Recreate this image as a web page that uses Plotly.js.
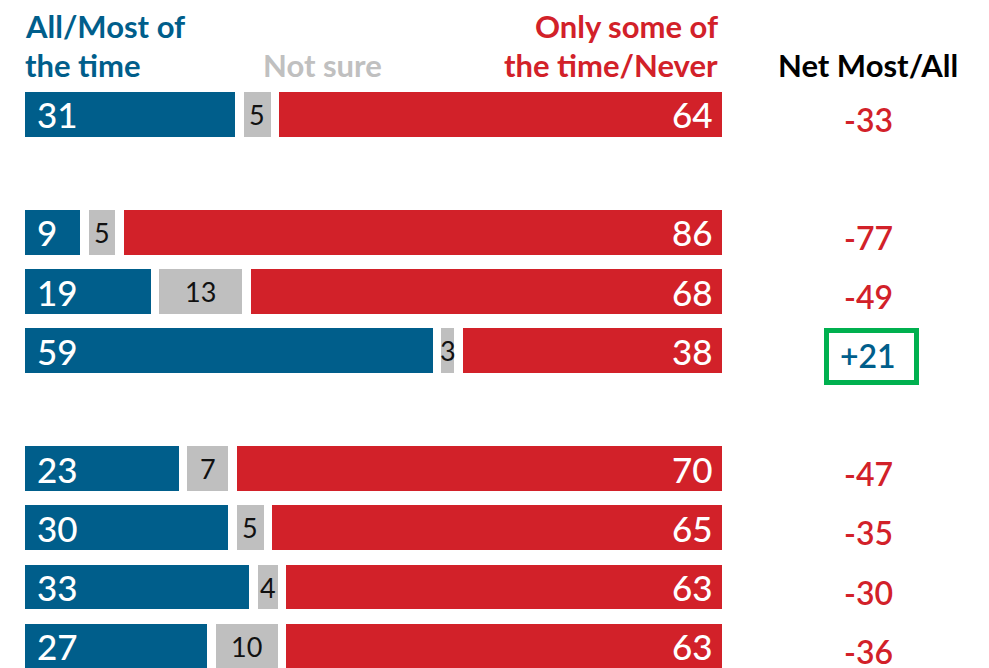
<!DOCTYPE html>
<html><head><meta charset="utf-8">
<script src="https://cdn.plot.ly/plotly-3.0.1.min.js"></script>
<style>html,body{margin:0;padding:0;background:#fff}#chart{width:989px;height:668px}</style>
</head><body><div id="chart"></div>
<script>
// ---- data ----
const rows = ["Row 1", "Row 2", "Row 3", "Row 4", "Row 5", "Row 6", "Row 7", "Row 8"];
const slots = ["Row 1", "gap 1", "Row 2", "Row 3", "Row 4", "gap 2", "Row 5", "Row 6", "Row 7", "Row 8"];
const allMost = [31, 9, 19, 59, 23, 30, 33, 27];
const notSure = [5, 5, 13, 3, 7, 5, 4, 10];
const someNever = [64, 86, 68, 38, 70, 65, 63, 63];
const netMostAll = ["-33", "-77", "-49", "+21", "-47", "-35", "-30", "-36"];
const highlighted = [false, false, false, true, false, false, false, false];
const headerAll = ["All/Most of", "the time"];
const headerSure = "Not sure";
const headerSome = ["Only some of", "the time/Never"];
const headerNet = "Net Most/All";

// ---- styles ----
const BLUE = "#005e8b", RED = "#d22129", GREY = "#bfbfbf", GREYTXT = "#c0c0c0", GREEN = "#00b04f";
const FONT = "Lato, 'DejaVu Sans', sans-serif";
const W = 989, H = 668;

function barTrace(vals, color, name) {
  return {
    type: 'bar', orientation: 'h', y: rows, x: vals, name: name,
    marker: {color: color, line: {color: '#ffffff', width: 8.5}},
    width: 0.905, hoverinfo: 'skip', textposition: 'none', showlegend: false
  };
}
const traces = [barTrace(allMost, BLUE, headerAll.join(' ')),
                barTrace(notSure, GREY, headerSure),
                barTrace(someNever, RED, headerSome.join(' '))];

const ann = [];
rows.forEach((r, i) => {
  ann.push({x: 0, y: r, xref: 'x', yref: 'y', text: String(allMost[i]), showarrow: false,
            xanchor: 'left', xshift: 14, font: {family: FONT, size: 35, color: '#ffffff', weight: 500}});
  ann.push({x: allMost[i] + notSure[i] / 2, y: r, xref: 'x', yref: 'y', text: String(notSure[i]), showarrow: false,
            xanchor: 'center', font: {family: FONT, size: 27, color: '#111111'}});
  ann.push({x: allMost[i] + notSure[i] + someNever[i], y: r, xref: 'x', yref: 'y', text: String(someNever[i]), showarrow: false,
            xanchor: 'right', xshift: -12, font: {family: FONT, size: 35, color: '#ffffff', weight: 500}});
  ann.push({x: 868 / W, y: r, xref: 'paper', yref: 'y', text: netMostAll[i], showarrow: false,
            xanchor: 'center', yshift: -5,
            font: {family: FONT, size: 32, color: highlighted[i] ? BLUE : RED, weight: 600}});
});
function hdr(text, px, py, anchor, color) {
  ann.push({x: px / W, y: 1 - py / H, xref: 'paper', yref: 'paper', text: text, showarrow: false,
            xanchor: anchor, yanchor: 'middle', font: {family: FONT, size: 31, color: color, weight: 700}});
}
hdr(headerAll[0], 23, 26, 'left', BLUE);
hdr(headerAll[1], 23, 65, 'left', BLUE);
hdr(headerSure, 261, 65, 'left', GREYTXT);
hdr(headerSome[0], 720, 26, 'right', RED);
hdr(headerSome[1], 720, 65, 'right', RED);
hdr(headerNet, 868, 65, 'center', '#000000');

const shapes = [];
highlighted.forEach((h, i) => {
  if (h) shapes.push({type: 'rect', xref: 'paper', yref: 'paper',
    x0: 826.5 / W, x1: 916.5 / W, y0: 1 - 382.5 / H, y1: 1 - 330.5 / H,
    line: {color: GREEN, width: 5}, fillcolor: 'rgba(0,0,0,0)'});
});

const k = 7.058, x0px = 20.75;
const slotPx = 59.1, firstPx = 114.2;
const layout = {
  width: W, height: H, margin: {l: 0, r: 0, t: 0, b: 0},
  paper_bgcolor: '#fff', plot_bgcolor: '#fff',
  barmode: 'stack', showlegend: false,
  font: {family: FONT},
  xaxis: {range: [-x0px / k, (W - x0px) / k], visible: false, fixedrange: true},
  yaxis: {type: 'category', categoryorder: 'array', categoryarray: slots,
          range: [(H - firstPx) / slotPx, -firstPx / slotPx], visible: false, fixedrange: true},
  annotations: ann, shapes: shapes
};
Plotly.newPlot('chart', traces, layout, {displayModeBar: false, staticPlot: true});
</script>
</body></html>
